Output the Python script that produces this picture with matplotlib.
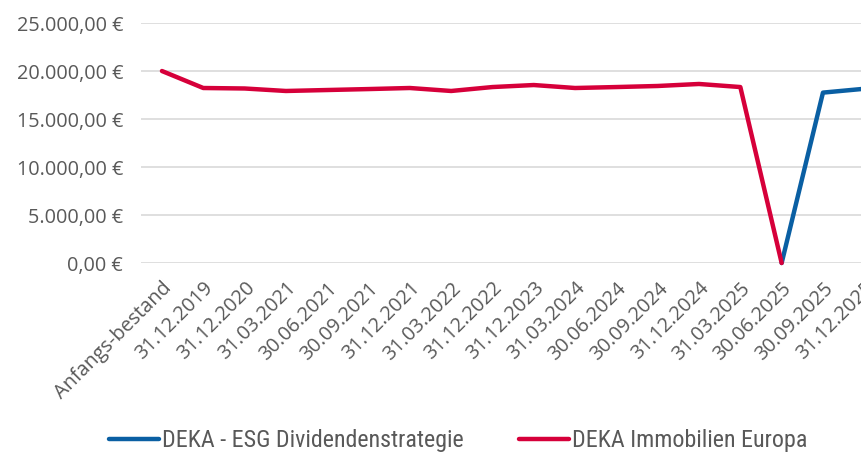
import matplotlib.pyplot as plt
import numpy as np
from matplotlib import font_manager
from matplotlib.ticker import FuncFormatter

categories = [
    "Anfangs-bestand", "31.12.2019", "31.12.2020", "31.03.2021", "30.06.2021",
    "30.09.2021", "31.12.2021", "31.03.2022", "31.12.2022", "31.12.2023",
    "31.03.2024", "30.06.2024", "30.09.2024", "31.12.2024", "31.03.2025",
    "30.06.2025", "30.09.2025", "31.12.2025",
]
nan = np.nan
esg_dividenden = [
    nan, nan, nan, nan, nan, nan, nan, nan, nan, nan, nan, nan, nan, nan, nan,
    0, 17750, 18150,
]
immobilien_europa = [
    20000, 18230, 18180, 17920, 18020, 18120, 18230, 17920, 18330, 18540,
    18230, 18330, 18440, 18650, 18330, 0, nan, nan,
]

BLUE = "#0A5FA3"
RED = "#D6003A"
GREY = "#595959"

# narrow face for the legend if one is installed
installed = {f.name for f in font_manager.fontManager.ttflist}
legend_font = "Roboto"
for cand in ["Liberation Sans Narrow", "Roboto Condensed", "DejaVu Sans Condensed",
             "Open Sans Condensed"]:
    if cand in installed:
        legend_font = cand
        break


def euro(v, _pos):
    s = f"{v:,.2f}".replace(",", "X").replace(".", ",").replace("X", ".")
    return f"{s} €"


fig = plt.figure(figsize=(8.61, 4.53), dpi=100)
ax = fig.add_axes([0.1641, 0.4194, 0.8637, 0.5298])

x = np.arange(len(categories))
ax.plot(x, esg_dividenden, color=BLUE, lw=3.2, solid_capstyle="round",
        clip_on=False, label="DEKA - ESG Dividendenstrategie", zorder=3)
ax.plot(x, immobilien_europa, color=RED, lw=3.2, solid_capstyle="round",
        clip_on=False, label="DEKA Immobilien Europa", zorder=4)

ax.set_xlim(-0.5, len(categories) - 0.5)
ax.set_ylim(0, 25000)
ax.set_yticks(np.arange(0, 25001, 5000))
ax.yaxis.set_major_formatter(FuncFormatter(euro))
ax.grid(axis="y", color="#D9D9D9", lw=1.2)
ax.set_axisbelow(True)
for sp in ax.spines.values():
    sp.set_visible(False)

ax.set_xticks(x)
ax.set_xticklabels(categories, rotation=45, ha="right",
                   rotation_mode="anchor")
ax.tick_params(axis="both", length=0, colors=GREY, labelsize=14.3)
ax.tick_params(axis="y", pad=13)
ax.tick_params(axis="x", pad=11)
for lbl in ax.get_xticklabels() + ax.get_yticklabels():
    lbl.set_family("Open Sans")

leg = fig.legend(
    loc="center", bbox_to_anchor=(458 / 861, 1 - 441 / 453), ncol=2,
    frameon=False, handlelength=2.1, handletextpad=0.1, columnspacing=2.3,
    prop={"family": [legend_font, "DejaVu Sans"], "size": 17.3},
)
for t in leg.get_texts():
    t.set_color(GREY)

fig.savefig("out.png", dpi=100)
